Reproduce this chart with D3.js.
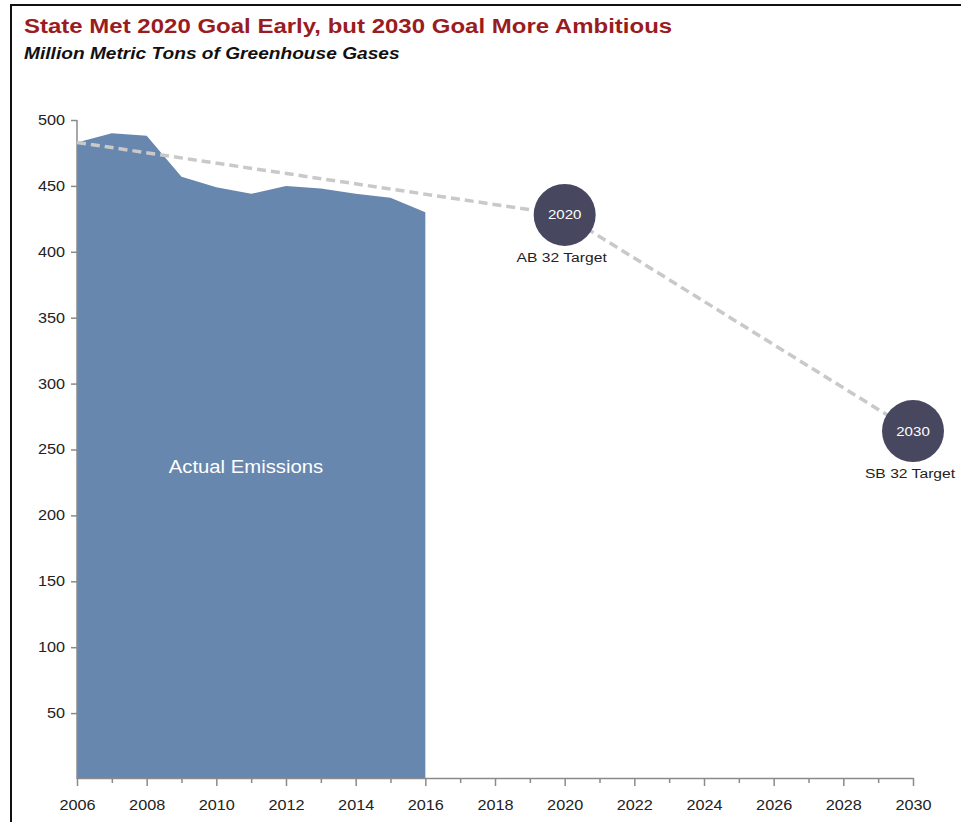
<!DOCTYPE html>
<html>
<head>
<meta charset="utf-8">
<script src="https://cdn.jsdelivr.net/npm/d3@7"></script>
<style>
  body { margin: 0; background: #fff; }
  svg { display: block; font-family: "Liberation Sans", Arial, sans-serif; }
</style>
</head>
<body>
<svg id="chart" width="961" height="822"></svg>
<script>
// Data
const years = [2006, 2007, 2008, 2009, 2010, 2011, 2012, 2013, 2014, 2015, 2016];
const emissions = [483, 490, 488, 457, 449, 444, 450, 448, 444, 441, 430];
const targetYears = [2020, 2030];
const targetValues = [428, 264];
const targetNames = ["AB 32 Target", "SB 32 Target"];
const yTicks = [50, 100, 150, 200, 250, 300, 350, 400, 450, 500];

const svg = d3.select("#chart");
const width = 961;
const height = 822;
const margin = {top: 120, right: 48, bottom: 44, left: 77};
// the source picture is a little wide, so text gets a horizontal stretch
const sx = 1.16;

const stretch = function(sel, x, y) {
    return sel
        .attr("x", 0).attr("y", 0)
        .attr("transform", `translate(${x},${y}) scale(${sx},1)`);
}

// frame (top + left edges only, as in the cropped picture)
svg.append("path")
    .attr("d", `M11,${height} L11,5 L${width},5`)
    .attr("fill", "none")
    .attr("stroke", "#111")
    .attr("stroke-width", 2);

svg.append("text")
    .call(stretch, 24, 33)
    .attr("fill", "#9a1c1f")
    .attr("font-size", 20.7)
    .attr("font-weight", "bold")
    .text("State Met 2020 Goal Early, but 2030 Goal More Ambitious");

svg.append("text")
    .call(stretch, 24, 59)
    .attr("fill", "#111")
    .attr("font-size", 16.5)
    .attr("font-weight", "bold")
    .attr("font-style", "italic")
    .text("Million Metric Tons of Greenhouse Gases");

const xScale = d3.scaleLinear()
    .domain([2006, 2030])
    .range([margin.left, width - margin.right]);
const yScale = d3.scaleLinear()
    .domain([0, 500])
    .range([height - margin.bottom + 1, margin.top]);

// area
const area = d3.area()
    .x((d, i) => xScale(years[i]))
    .y0(yScale(0))
    .y1(d => yScale(d));
svg.append("path")
    .datum(emissions)
    .attr("fill", "#6787ae")
    .attr("d", area);

svg.append("text")
    .call(stretch, xScale(2010.85), yScale(232))
    .attr("text-anchor", "middle")
    .attr("fill", "#fff")
    .attr("font-size", 17.5)
    .text("Actual Emissions");

// axes
const axisColor = "#8a8a8a";
const xAxis = svg.append("g")
    .attr("transform", `translate(0,${height - margin.bottom})`)
    .call(d3.axisBottom(xScale)
        .tickValues(d3.range(2006, 2031))
        .tickSizeOuter(0)
        .tickFormat(d => d % 2 === 0 ? d : ""));
xAxis.selectAll(".tick line")
    .attr("y2", d => d % 2 === 0 ? 8 : 5);
xAxis.selectAll(".tick text")
    .attr("dy", null)
    .call(stretch, 0, 32)
    .attr("font-size", 14)
    .attr("font-family", "Liberation Sans, Arial, sans-serif")
    .attr("fill", "#222");

const yAxis = svg.append("g")
    .attr("transform", `translate(${margin.left},0)`)
    .call(d3.axisLeft(yScale)
        .tickValues(yTicks)
        .tickSize(6)
        .tickSizeOuter(0));
yAxis.select(".domain").attr("d", `M0,${yScale(0)}V${yScale(500)}`);
yAxis.selectAll(".tick text")
    .call(stretch, -12, 0)
    .attr("font-size", 14)
    .attr("font-family", "Liberation Sans, Arial, sans-serif")
    .attr("fill", "#222");
svg.selectAll(".domain, .tick line")
    .attr("stroke", axisColor)
    .attr("stroke-width", 1.5);

// dashed target path
const pathYears = [years[0]].concat(targetYears);
const pathValues = [emissions[0]].concat(targetValues);
svg.append("path")
    .datum(pathYears)
    .attr("fill", "none")
    .attr("stroke", "#c9c9c9")
    .attr("stroke-width", 3.5)
    .attr("stroke-dasharray", "9,5")
    .attr("d", d3.line()
        .x(d => xScale(d))
        .y((d, i) => yScale(pathValues[i])));

// target markers
const targets = svg.append("g")
    .selectAll("g")
    .data(targetYears)
    .join("g")
    .attr("transform", (d, i) => `translate(${xScale(d)},${yScale(targetValues[i])})`);
targets.append("circle")
    .attr("r", 31)
    .attr("fill", "#47475f");
targets.append("text")
    .call(stretch, 0, 0)
    .attr("text-anchor", "middle")
    .attr("dy", "0.35em")
    .attr("fill", "#fff")
    .attr("font-size", 13)
    .text(d => d);
targets.append("text")
    .call(stretch, -3, 47)
    .attr("text-anchor", "middle")
    .attr("fill", "#222")
    .attr("font-size", 13.5)
    .text((d, i) => targetNames[i]);
</script>
</body>
</html>
